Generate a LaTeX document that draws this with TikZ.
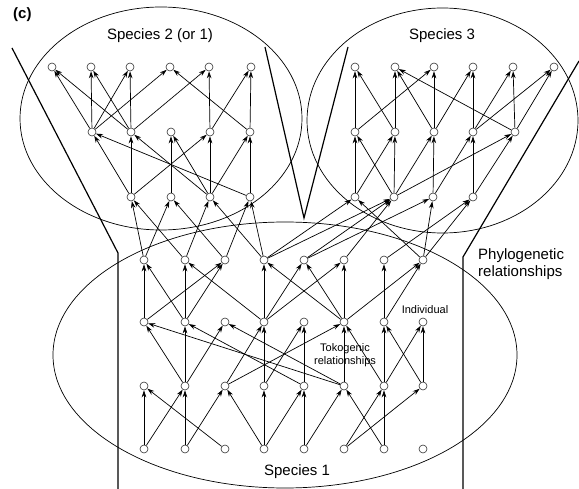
\documentclass[tikz,border=0pt]{standalone}
\usepackage{fontspec}
\setmainfont{Liberation Sans}
\usetikzlibrary{arrows.meta}
\begin{document}
\begin{tikzpicture}[x=1pt,y=-1pt,
  ind/.style={circle,draw=black!80,line width=0.6pt,minimum size=8pt,inner sep=0pt,fill=white},
  arr/.style={-{Stealth[length=7pt,width=4.6pt]},line width=0.7pt},
  boundary/.style={line width=0.7pt},
  tube/.style={line width=1.2pt},
  biglabel/.style={font=\fontsize{15}{17}\selectfont,inner sep=0pt},
  smalllabel/.style={font=\fontsize{11}{12.5}\selectfont,inner sep=0pt}]
\useasboundingbox (0,0) rectangle (579,489);

% species boundaries
\draw[boundary] (161,118.5) ellipse [x radius=141, y radius=111.5];
\draw[boundary] (442.5,120.5) ellipse [x radius=135.5, y radius=112.5];
\draw[boundary] (285,355) ellipse [x radius=232, y radius=133];

% phylogenetic branches
\draw[tube] (12,48) -- (118,253) -- (118,489);
\draw[tube] (265,47) -- (304,218) -- (348,47);
\draw[tube] (579,61) -- (463,257) -- (463,489);

% individuals of species 2
\foreach \x [count=\k] in {52,91,130,170,209,251} \node[ind] (a\k) at (\x,67) {};
\foreach \x [count=\k] in {92,131,171,210,250} \node[ind] (b\k) at (\x,132) {};
\foreach \x [count=\k] in {131,171,210,250} \node[ind] (c\k) at (\x,197) {};
% individuals of species 3
\foreach \x [count=\k] in {355,395,434,473,513,554} \node[ind] (d\k) at (\x,67) {};
\foreach \x [count=\k] in {355,395,434,473,515} \node[ind] (e\k) at (\x,132) {};
\foreach \x [count=\k] in {355,394,433,473} \node[ind] (f\k) at (\x,197) {};
% individuals of species 1
\foreach \x [count=\k] in {144,185,225,264,304,344,384,423} {
  \node[ind] (g\k) at (\x,260) {};
  \node[ind] (h\k) at (\x,322) {};
  \node[ind] (i\k) at (\x,386) {};
  \node[ind] (j\k) at (\x,449) {};
}

% tokogenic relationships (parent -> offspring)
\foreach \s/\t in {b1/a1,b2/a1,b1/a2,b2/a2,b1/a3,b2/a3,b1/a4,b5/a4,b2/a5,b4/a5,b4/a6,b5/a6,
  c1/b1,c4/b1,c1/b2,c3/b2,c2/b3,c3/b3,c1/b4,c3/b4,c3/b5,c4/b5,
  e1/d1,e2/d1,e2/d2,e3/d2,e5/d2,e1/d3,e3/d3,e3/d4,e4/d4,e4/d5,e5/d5,e4/d6,e5/d6,
  f1/e1,f2/e1,f1/e2,f2/e2,f2/e3,f3/e3,f3/e4,f4/e4,f2/e5,f4/e5,
  g1/c1,g2/c1,g1/c2,g3/c2,g2/c3,g4/c3,g3/c4,g4/c4,
  g4/f1,g8/f1,g4/f2,g5/f2,g6/f2,g5/f3,g8/f3,g7/f4,g8/f4,
  h1/g1,h2/g1,h2/g2,h4/g2,h1/g3,h2/g3,h4/g4,h6/g4,h4/g5,h6/g5,h4/g6,h6/g6,h7/g7,h6/g8,h7/g8,
  i2/h1,i6/h1,i2/h2,i5/h2,i2/h3,i6/h3,i3/h4,i4/h4,i4/h5,i5/h5,i3/h6,i6/h6,i7/h6,i7/h7,i8/h7,i7/h8,i8/h8,
  j1/i1,j3/i1,j1/i2,j2/i2,j2/i3,j4/i3,j4/i4,j4/i5,j5/i5,j5/i6,j7/i6,j6/i7,j7/i7,j6/i8}
  \draw[arr] (\s) -- (\t);

% labels
\node[font=\fontsize{15}{17}\selectfont\bfseries,inner sep=0pt,anchor=west] (panel) at (13,15) {(c)};
\node[biglabel] (sp2) at (160,36) {Species 2 (or 1)};
\node[biglabel] (sp3) at (442,36) {Species 3};
\node[biglabel] (sp1) at (297,472) {Species 1};
\node[biglabel,anchor=north west,align=left] (phylo) at (478,248) {Phylogenetic\\relationships};
\node[smalllabel] (indiv) at (425,310) {Individual};
\node[smalllabel,align=center] (toko) at (345,355) {Tokogenic\\relationships};
\end{tikzpicture}
\end{document}
